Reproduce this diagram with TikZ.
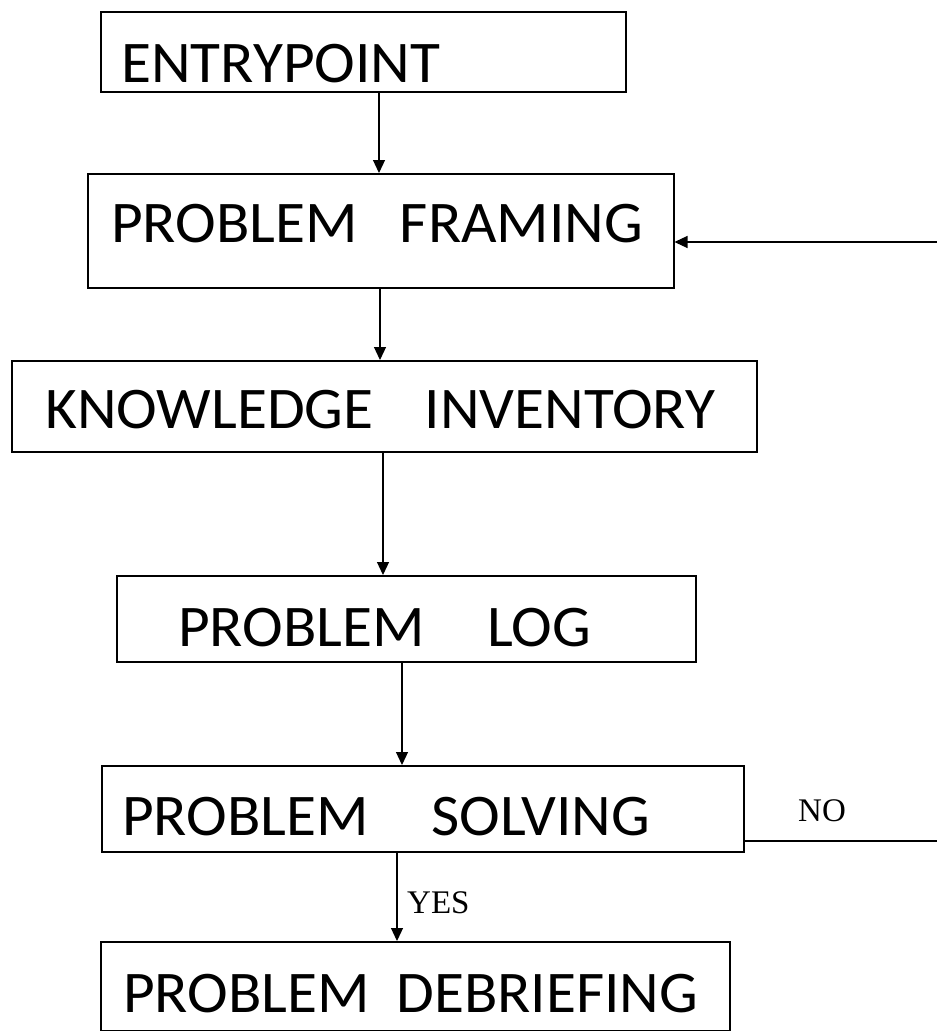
\documentclass[tikz,border=0pt]{standalone}
\usepackage{fontspec}
\setmainfont{Carlito}[FakeStretch=1.04]
\newfontfamily\timesfont{Liberation Serif}
\usetikzlibrary{positioning,calc,arrows.meta}

\begin{document}
\begin{tikzpicture}[x=1pt, y=-1pt,
    box/.style={draw, line width=1.5pt, inner sep=0pt, anchor=north west},
    word/.style={anchor=base west, inner sep=0pt, font=\fontsize{59}{64}\selectfont},
    arr/.style={line width=1.2pt, -{Triangle[length=13pt,width=12pt]}},
    tag/.style={inner sep=0pt, font=\timesfont\fontsize{33}{36}\selectfont}]
    \useasboundingbox (0,0) rectangle (937,1031);

    % boxes
    \foreach \name/\x/\y/\w/\h in {entry/100/11/525/80, frame/87/173/586/114,
        know/11/360/745/91, log/116/575/579/86, solve/101/765/642/86, deb/100/941/629/89}
        \node[box, minimum width=\w pt, minimum height=\h pt] (\name) at (\x,\y) {};

    % texts
    \node[word] (tentry) at (121,82) {ENTRYPOINT};
    \node[word, text width=532pt] (tframe) at (111,242) {PROBLEM\hfill FRAMING};
    \node[word, text width=670pt] (tknow) at (45,428) {KNOWLEDGE\hfill INVENTORY};
    \node[word, text width=413pt] (tlog) at (178,646) {PROBLEM\hfill LOG};
    \node[word, text width=528pt] (tsolve) at (122,835) {PROBLEM\hfill SOLVING};
    \node[word, text width=575pt] (tdeb) at (123,1012) {PROBLEM\hfill DEBRIEFING};

    % connectors
    \coordinate (c1) at (379,0);
    \coordinate (c2) at (380,0);
    \coordinate (c3) at (383,0);
    \coordinate (c4) at (402,0);
    \coordinate (c5) at (397,0);
    \draw[arr] (c1 |- entry.south) -- (c1 |- frame.north);
    \draw[arr] (c2 |- frame.south) -- (c2 |- know.north);
    \draw[arr] (c3 |- know.south) -- (c3 |- log.north);
    \draw[arr] (c4 |- log.south) -- (c4 |- solve.north);
    \draw[arr] (c5 |- solve.south) -- (c5 |- deb.north);
    \node[tag, anchor=west] (yes) at (407,903) {YES};

    \coordinate (back) at (937,242);
    \draw[arr] (back) -- (back -| frame.east);
    \coordinate (no) at (937,841);
    \draw[line width=1.2pt] (no -| solve.east) -- (no);
    \node[tag] (notag) at (822,811) {NO};
\end{tikzpicture}
\end{document}
